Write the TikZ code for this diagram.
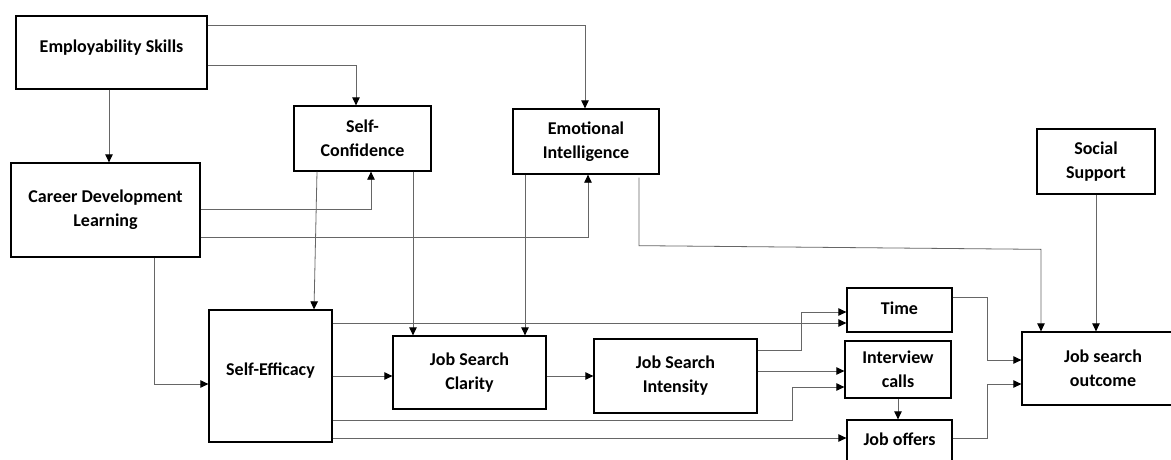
\documentclass[tikz,border=0pt]{standalone}
\usepackage{fontspec}
\setmainfont{Carlito}
\usetikzlibrary{arrows.meta}
% lift a label inside its box without changing the box's reported size
\newcommand{\liftlabel}[2]{\raisebox{#1}[\height][\depth]{#2}}
\begin{document}
\begin{tikzpicture}[x=1pt,y=-1pt,
  box/.style={draw=black, line width=1.3pt, rectangle, inner sep=0pt, align=center,
              font=\fontsize{18}{24}\selectfont\bfseries},
  link/.style={draw=black!60, line width=0.8pt,
               -{Triangle[length=8pt,width=7.5pt,color=black]}},
]
\useasboundingbox (0,0) rectangle (1171,459);
\fill[white] (0,0) rectangle (1171,459);

% boxes
\node[box, minimum width=191pt, minimum height=73pt] (es) at (111.5,52.5) {\liftlabel{5pt}{Employability Skills}};
\node[box, minimum width=189pt, minimum height=94pt] (cdl) at (105.5,210) {Career Development\\Learning};
\node[box, minimum width=137pt, minimum height=65pt] (sc) at (362.5,138.5) {Self-\\Confidence};
\node[box, minimum width=146pt, minimum height=65pt] (ei) at (586,141.5) {Emotional\\Intelligence};
\node[box, minimum width=118pt, minimum height=65pt] (ss) at (1096,161.5) {Social\\Support};
\node[box, minimum width=123pt, minimum height=132pt] (se) at (270.5,376) {\liftlabel{5pt}{Self-Efficacy}};
\node[box, minimum width=153pt, minimum height=73pt] (jsc) at (469.5,372.5) {Job Search\\Clarity};
\node[box, minimum width=163pt, minimum height=74pt] (jsi) at (675.5,376) {Job Search\\Intensity};
\node[box, minimum width=105pt, minimum height=44pt] (time) at (899.5,310) {\liftlabel{2pt}{Time}};
\node[box, minimum width=106pt, minimum height=57pt] (ic) at (898,369.5) {Interview\\calls};
\node[box, minimum width=105pt, minimum height=44pt] (jo) at (899.5,442) {\liftlabel{3pt}{Job offers}};
\node[box, minimum width=162pt, minimum height=73pt] (jso) at (1103,368.5) {Job search\\outcome};

% connectors
\draw[link] ([xshift=-2.5pt]es.south) -- ([xshift=3.5pt]cdl.north);
\draw[link] ([yshift=27.5pt]es.east) -| ([xshift=-1pt]ei.north);
\draw[link] ([yshift=-12.5pt]es.east) -| ([xshift=-6.5pt]sc.north);
\draw[link] ([yshift=1pt]cdl.east) -| ([xshift=8.5pt]sc.south);
\draw[link] ([yshift=-27pt]cdl.east) -| ([xshift=2pt]ei.south);
\draw[link] ([xshift=48.5pt]cdl.south) |- ([yshift=-8pt]se.west);
\draw[link] ([xshift=-45.5pt]sc.south) -- ([xshift=43.5pt]se.north);
\draw[link] ([xshift=50.5pt]sc.south) -- ([xshift=-56.5pt]jsc.north);
\draw[link] ([xshift=-61pt]ei.south) -- ([xshift=55.5pt]jsc.north);
\draw[link] ([xshift=53pt,yshift=-3pt]ei.south) -- ++(0,68)
            -- ([xshift=-62pt,yshift=82pt]jso.north) -- ([xshift=-62pt]jso.north);
\draw[link] (ss.south) -- ([xshift=-7pt]jso.north);
\draw[link] ([yshift=53pt]se.east) -- ([yshift=-13pt]time.west);
\draw[link] (se.east) -- ([yshift=-3.5pt]jsc.west);
\draw[link] ([yshift=-44pt]se.east) -- ++(460,0) |- ([yshift=-17.5pt]ic.west);
\draw[link] ([yshift=-62pt]se.east) -- ([yshift=4pt]jo.west);
\draw[link] ([yshift=-3.5pt]jsc.east) -- (jsi.west);
\draw[link] ([yshift=26pt]jsi.east) -- ++(44,0) |- ([yshift=-2pt]time.west);
\draw[link] ([yshift=5pt]jsi.east) -- ([yshift=-1.5pt]ic.west);
\draw[link] ([yshift=13pt]time.east) -- ++(35,0) |- ([yshift=8.5pt]jso.west);
\draw[link] (ic.south) -- ([xshift=-1.5pt]jo.north);
\draw[link] ([yshift=4pt]jo.east) -- ++(35,0) |- ([yshift=-15.5pt]jso.west);
\end{tikzpicture}
\end{document}
